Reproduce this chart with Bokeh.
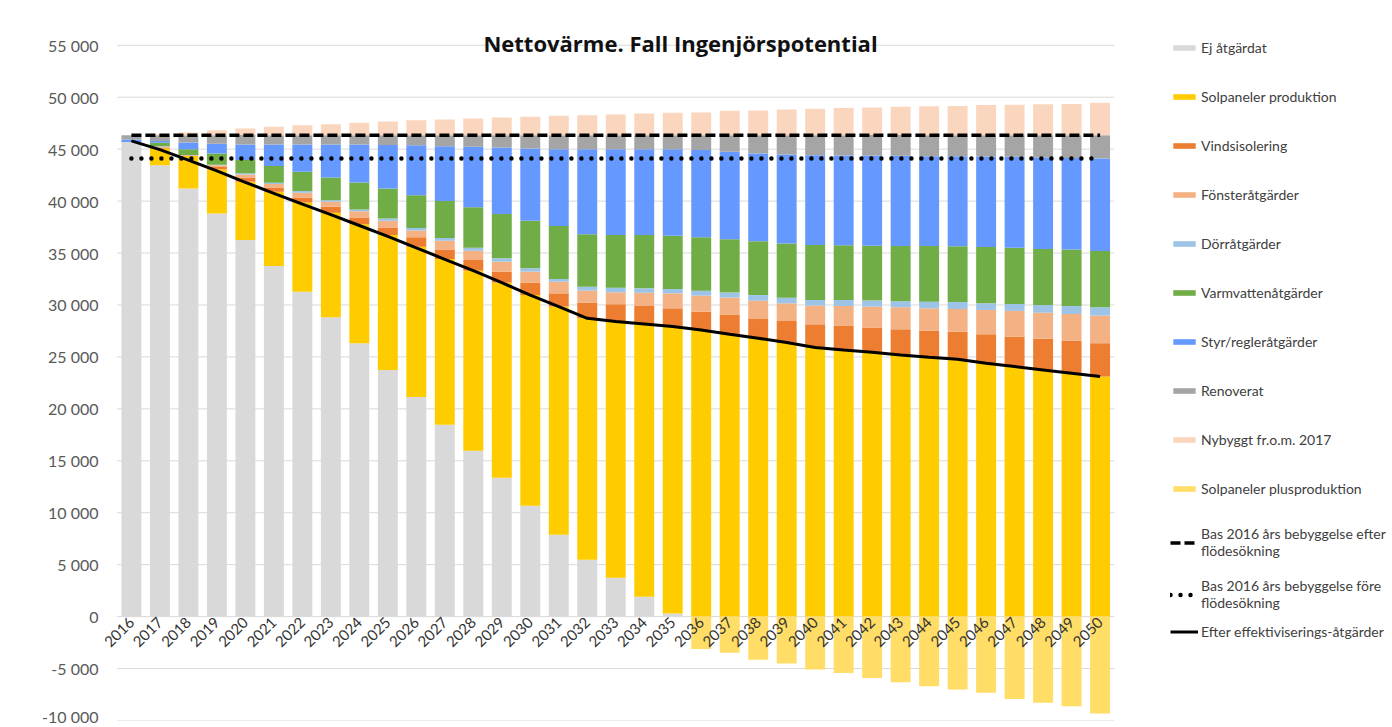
import math
from bokeh.plotting import figure
from bokeh.models import (Range1d, FixedTicker, Legend, LegendItem,
                          Label, ColumnDataSource)
from bokeh.transform import stack
from bokeh.embed import file_html
from bokeh.resources import INLINE

years = [2016, 2017, 2018, 2019, 2020, 2021, 2022, 2023, 2024, 2025,
         2026, 2027, 2028, 2029, 2030, 2031, 2032, 2033, 2034, 2035,
         2036, 2037, 2038, 2039, 2040, 2041, 2042, 2043, 2044, 2045,
         2046, 2047, 2048, 2049, 2050]
year_labels = [str(y) for y in years]

ej = [45700, 43460, 41220, 38810, 36250, 33750, 31280, 28810, 26310, 23750,
      21150, 18460, 15960, 13370, 10670, 7880, 5480, 3750, 1920, 290,
      0, 0, 0, 0, 0, 0, 0, 0, 0, 0, 0, 0, 0, 0, 0]
sol = [0, 1600, 3110, 4260, 5610, 7150, 8590, 10060, 11470, 12980,
       14460, 15960, 17340, 18780, 20290, 21960, 23240, 24650, 26250, 27630,
       27600, 27180, 26790, 26380, 25900, 25670, 25450, 25190, 24970, 24770,
       24390, 24070, 23750, 23430, 23110]
vind = [0, 100, 50, 220, 420, 420, 480, 580, 640, 740,
        900, 930, 1030, 1060, 1190, 1280, 1510, 1670, 1730, 1760,
        1760, 1860, 1920, 2080, 2240, 2310, 2340, 2470, 2560, 2660,
        2790, 2890, 3010, 3140, 3210]
fonster = [0, 80, 30, 160, 290, 320, 450, 480, 610, 640,
           670, 830, 900, 960, 1060, 1120, 1150, 1150, 1280, 1440,
           1540, 1670, 1700, 1700, 1800, 1920, 2050, 2120, 2150, 2180,
           2340, 2470, 2500, 2560, 2660]
dorr = [0, 45, 20, 60, 100, 130, 160, 160, 160, 220,
        220, 260, 290, 320, 320, 260, 380, 450, 420, 420,
        480, 480, 540, 540, 540, 580, 580, 580, 640, 670,
        640, 670, 740, 770, 800]
varm = [0, 320, 550, 1060, 1280, 1600, 1860, 2180, 2600, 2890,
        3170, 3560, 3880, 4260, 4580, 5100, 5060, 5060, 5130, 5130,
        5130, 5130, 5190, 5220, 5290, 5260, 5290, 5320, 5350, 5380,
        5420, 5420, 5380, 5450, 5420]
styr = [220, 190, 670, 960, 1510, 2080, 2630, 3170, 3650, 4170,
        4810, 5290, 5830, 6410, 6960, 7400, 8170, 8270, 8270, 8330,
        8400, 8430, 8430, 8560, 8650, 8650, 8690, 8690, 8650, 8650,
        8720, 8750, 8810, 8810, 8910]
renov = [420, 550, 700, 800, 900, 900, 900, 900, 900, 960,
         960, 1060, 1120, 1190, 1280, 1350, 1350, 1350, 1350, 1350,
         1440, 1600, 1760, 1860, 1920, 1960, 1960, 1990, 2020, 2020,
         2050, 2080, 2150, 2180, 2240]
nybyggt = [0, 100, 260, 480, 640, 800, 960, 1060, 1190, 1310,
           1440, 1510, 1600, 1700, 1760, 1860, 1920, 1990, 2080, 2150,
           2180, 2340, 2400, 2470, 2560, 2600, 2660, 2720, 2790, 2820,
           2890, 2920, 2980, 3010, 3110]
plusprod = [0, 0, 0, 0, 0, 0, 0, 0, 0, 0,
            0, 0, 0, 0, 0, 0, 0, 0, 0, 0,
            -3110, -3490, -4140, -4520, -5100, -5420, -5900, -6320, -6700, -7020,
            -7340, -7920, -8300, -8620, -9330]
bas_efter = [46350, 46350, 46350, 46350, 46350, 46350, 46350, 46350, 46350, 46350,
             46350, 46350, 46350, 46350, 46350, 46350, 46350, 46350, 46350, 46350,
             46350, 46350, 46350, 46350, 46350, 46350, 46350, 46350, 46350, 46350,
             46350, 46350, 46350, 46350, 46350]
bas_fore = [44100, 44100, 44100, 44100, 44100, 44100, 44100, 44100, 44100, 44100,
            44100, 44100, 44100, 44100, 44100, 44100, 44100, 44100, 44100, 44100,
            44100, 44100, 44100, 44100, 44100, 44100, 44100, 44100, 44100, 44100,
            44100, 44100, 44100, 44100, 44100]
efter_eff = [45800, 44950, 43950, 42900, 41800, 40750, 39700, 38700, 37650, 36600,
             35500, 34400, 33300, 32150, 30950, 29850, 28720, 28400, 28170, 27920,
             27600, 27180, 26800, 26380, 25900, 25670, 25450, 25190, 24970, 24780,
             24390, 24070, 23750, 23430, 23110]

y_ticks = [-10000, -5000, 0, 5000, 10000, 15000, 20000, 25000, 30000, 35000,
           40000, 45000, 50000, 55000]
y_tick_labels = ["-10 000", "-5 000", "0", "5 000", "10 000", "15 000", "20 000",
                 "25 000", "30 000", "35 000", "40 000", "45 000", "50 000", "55 000"]

stack_names = ["ej", "sol", "vind", "fonster", "dorr", "varm", "styr", "renov"]
stack_labels = ["Ej åtgärdat", "Solpaneler produktion", "Vindsisolering",
                "Fönsteråtgärder", "Dörråtgärder", "Varmvattenåtgärder",
                "Styr/regleråtgärder", "Renoverat"]
stack_colors = ["#D9D9D9", "#FFCC00", "#ED7D31", "#F4B183", "#9DC3E6",
                "#70AD47", "#6699FF", "#A5A5A5"]

src = ColumnDataSource(dict(year=years, ej=ej, sol=sol, vind=vind, fonster=fonster,
                            dorr=dorr, varm=varm, styr=styr, renov=renov,
                            nybyggt=nybyggt, plusprod=plusprod, bas_efter=bas_efter,
                            bas_fore=bas_fore, efter_eff=efter_eff))

FONT = "Lato"
W, H = 1390, 725
LEFT, TOP, BOTTOM = 101, 24, 5
PX_PER_YEAR = 28.49
x_start = years[0] - 1.05
x_end = x_start + (W - LEFT) / PX_PER_YEAR

p = figure(x_range=Range1d(x_start, x_end), y_range=Range1d(-10000, 57000),
           width=W, height=H, output_backend="svg", toolbar_location=None,
           min_border_left=LEFT, min_border_right=0, min_border_top=TOP,
           min_border_bottom=BOTTOM)
p.outline_line_color = None
p.background_fill_color = "white"
p.xgrid.visible = False
p.ygrid.visible = False

# horizontal gridlines limited to the category area
p.segment(x0=years[0] - 0.5, x1=years[-1] + 0.5, y0=y_ticks, y1=y_ticks,
          line_color="#D9D9D9", line_width=1)

p.yaxis.ticker = FixedTicker(ticks=y_ticks)
p.yaxis.major_label_overrides = {t: l for t, l in zip(y_ticks, y_tick_labels)}
p.yaxis.axis_line_color = None
p.yaxis.major_tick_line_color = None
p.yaxis.major_tick_out = 0
p.yaxis.major_tick_in = 0
p.yaxis.minor_tick_line_color = None
p.yaxis.major_label_standoff = 3
p.yaxis.major_label_text_font = FONT
p.yaxis.major_label_text_font_size = "16px"
p.yaxis.major_label_text_color = "#595959"

p.xaxis.ticker = FixedTicker(ticks=years)
p.xaxis.major_label_overrides = {y: l for y, l in zip(years, year_labels)}
p.xaxis.fixed_location = 0
p.xaxis.axis_line_color = None
p.xaxis.major_tick_line_color = None
p.xaxis.major_tick_out = 0
p.xaxis.major_tick_in = 0
p.xaxis.minor_tick_line_color = None
p.xaxis.major_label_orientation = math.pi / 4
p.xaxis.major_label_text_font = FONT
p.xaxis.major_label_text_font_size = "15px"
p.xaxis.major_label_text_color = "#333333"
p.xaxis.major_label_standoff = 3

bars = p.vbar_stack(stack_names, x="year", width=0.7, color=stack_colors,
                    line_color=None, source=src)
nyb = p.vbar(x="year", bottom=stack(*stack_names), top=stack(*stack_names, "nybyggt"),
             width=0.7, fill_color="#FAD6BE", line_color=None,
             hatch_pattern="v_line", hatch_color="#F4B183", hatch_alpha=0.45,
             hatch_scale=5, hatch_weight=1, source=src)
plus = p.vbar(x="year", top="plusprod", bottom=0, width=0.7,
              fill_color="#FFDD66", line_color=None,
              hatch_pattern="h_line", hatch_color="#FFF4C2", hatch_alpha=0.8,
              hatch_scale=3, hatch_weight=1, source=src)

l_efter = p.line("year", "bas_efter", source=src, line_color="black", line_width=3.5,
                 line_dash="10 4")
l_fore = p.line("year", "bas_fore", source=src, line_color="black", line_width=4.5,
                line_dash="0 10", line_cap="round")
l_eff = p.line("year", "efter_eff", source=src, line_color="black", line_width=3)

title = Label(x=x_start + (680 - LEFT) / PX_PER_YEAR, y=55200,
              text="Nettovärme. Fall Ingenjörspotential", text_font="Open Sans",
              text_font_style="bold", text_font_size="22px", text_color="#111111",
              text_align="center", text_baseline="middle")
p.add_layout(title)


def style(leg):
    leg.border_line_color = None
    leg.background_fill_alpha = 0
    leg.padding = 0
    leg.margin = 0
    leg.glyph_width = 28
    leg.glyph_height = 7
    leg.label_standoff = 3
    leg.label_height = 30
    leg.label_text_font = FONT
    leg.label_text_font_size = "14px"
    leg.label_text_color = "#404040"
    leg.label_text_baseline = "middle"
    leg.label_text_line_height = 1.15


items_a = [LegendItem(label=lab, renderers=[r]) for lab, r in zip(stack_labels, bars)]
items_a.append(LegendItem(label="Nybyggt fr.o.m. 2017", renderers=[nyb]))
items_a.append(LegendItem(label="Solpaneler plusproduktion", renderers=[plus]))
items_b = [
    LegendItem(label="Bas 2016 års bebyggelse efter\nflödesökning", renderers=[l_efter]),
    LegendItem(label="Bas 2016 års bebyggelse före\nflödesökning", renderers=[l_fore]),
]
items_c = [LegendItem(label="Efter effektiviserings-åtgärder", renderers=[l_eff])]

LEG_X = 1170 - LEFT
for its, ybot, sp in ((items_a, 217, 19), (items_b, 109, 18), (items_c, 74, 19)):
    lg = Legend(items=its, location=(LEG_X, ybot), spacing=sp)
    style(lg)
    p.add_layout(lg)

open("out.html", "w").write(file_html(p, INLINE))
